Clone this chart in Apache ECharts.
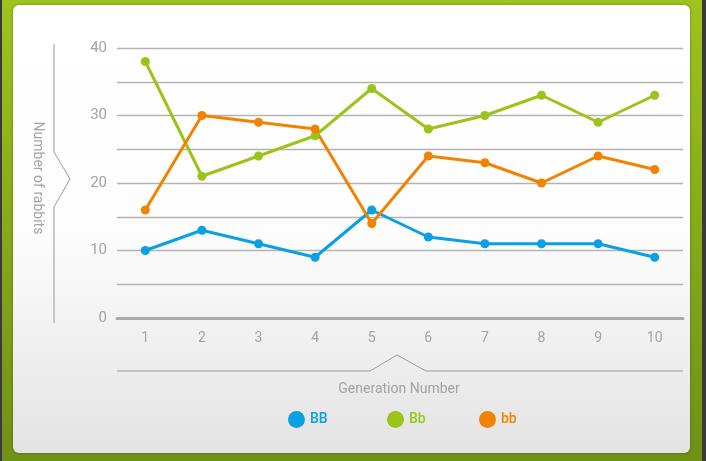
<!DOCTYPE html>
<html><head><meta charset="utf-8">
<script src="https://cdn.jsdelivr.net/npm/echarts@6/dist/echarts.min.js"></script>
<style>
html,body{margin:0;padding:0;width:706px;height:461px;overflow:hidden;background:#3a3a3a;}
#frame{position:absolute;left:2px;top:0;width:700px;height:461px;background:linear-gradient(#9cc41c,#6e9117);}
#panel{position:absolute;left:13px;top:5px;width:677px;height:448px;border-radius:6px;background:linear-gradient(#ffffff 0%,#fdfdfd 50%,#e3e3e3 100%);box-shadow:0 0 3px rgba(0,0,0,0.35);}
#chart{position:absolute;left:0;top:0;width:706px;height:461px;}
</style></head>
<body>
<div id="frame"></div><div id="panel"></div>
<div id="chart"></div>
<script>
var categories = ['1','2','3','4','5','6','7','8','9','10'];
var seriesNames = ['BB','Bb','bb'];
var BB = [10,13,11,9,16,12,11,11,11,9];
var Bb = [38,21,24,27,34,28,30,33,29,33];
var bb = [16,30,29,28,14,24,23,20,24,22];
var colors = ['#0aa0e2','#9bc41a','#f08300'];
var yAxisTitle = 'Number of rabbits';
var xAxisTitle = 'Generation Number';

var chart = echarts.init(document.getElementById('chart'), null, {renderer:'canvas'});
var font = 'Roboto, "DejaVu Sans", sans-serif';
var gray = '#a3a3a3';
function mkSeries(name, data, c){
  return {name:name, type:'line', data:data, symbol:'circle', symbolSize:9,
    lineStyle:{width:3,color:c}, itemStyle:{color:c}, z:3};
}
var legendX = [283, 382, 474];
var legends = seriesNames.map(function(n,i){
  return {data:[n], left:legendX[i], top:406, icon:'circle', itemWidth:17, itemHeight:17,
    textStyle:{color:colors[i], fontSize:14, fontFamily:font, fontWeight:500}, selectedMode:false};
});
chart.setOption({
  animation:false,
  backgroundColor:'transparent',
  grid:{left:117, right:23, top:48, bottom:143},
  legend:legends,
  xAxis:{type:'category', data:categories, boundaryGap:true,
    axisLine:{show:true, lineStyle:{color:'#a9a9a9', width:3}},
    axisTick:{show:false},
    axisLabel:{color:gray, fontSize:14, fontFamily:font, margin:13},
    splitLine:{show:false}},
  yAxis:{type:'value', min:0, max:40, interval:5,
    axisLine:{show:false}, axisTick:{show:false},
    axisLabel:{color:gray, fontSize:15, fontFamily:font, margin:10,
      formatter:function(v){return v%10===0? String(v):'';}},
    splitLine:{show:true, lineStyle:{color:'#b3b3b3', width:1.3}}},
  series:[mkSeries('BB',BB,colors[0]), mkSeries('Bb',Bb,colors[1]), mkSeries('bb',bb,colors[2])],
  graphic:[
    {type:'polyline', shape:{points:[[54,44],[54,152],[70,179],[54,207],[54,323]]},
      style:{stroke:'#9a9a9a', lineWidth:1, fill:null}},
    {type:'text', x:37, y:178, rotation:-Math.PI/2,
      style:{text:yAxisTitle, fill:gray, font:'14px '+font, textAlign:'center', textVerticalAlign:'middle'}},
    {type:'polyline', shape:{points:[[117,371],[370,371],[397,355],[426,371],[683,371]]},
      style:{stroke:'#9a9a9a', lineWidth:1, fill:null}},
    {type:'text', x:399, y:389,
      style:{text:xAxisTitle, fill:gray, font:'14px '+font, textAlign:'center', textVerticalAlign:'middle'}}
  ]
});
</script>
</body></html>
